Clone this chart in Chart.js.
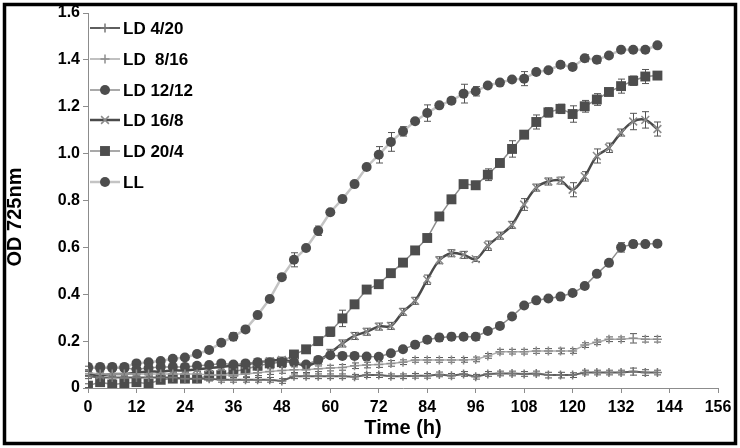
<!DOCTYPE html>
<html>
<head>
<meta charset="utf-8">
<script src="https://cdn.jsdelivr.net/npm/chart.js@4.4.1/dist/chart.umd.min.js"></script>
<style>
  html, body { margin: 0; padding: 0; background: #fff; }
  #wrap { position: relative; width: 740px; height: 448px; }
</style>
</head>
<body>
<div id="wrap"><canvas id="chart" width="740" height="448"></canvas></div>
<script>
// sampling times (h)
const hours = [0, 3, 6, 9, 12, 15, 18, 21, 24, 27, 30, 33, 36, 39, 42, 45,
  48, 51, 54, 57, 60, 63, 66, 69, 72, 75, 78, 81, 84, 87, 90, 93,
  96, 99, 102, 105, 108, 111, 114, 117, 120, 123, 126, 129, 132, 135, 138, 141]

const xTicks = [0, 12, 24, 36, 48, 60, 72, 84, 96, 108, 120, 132, 144, 156]

// OD 725nm per light regime
const ld4_20 = [0.05, 0.045, 0.045, 0.045, 0.045, 0.045, 0.045, 0.045, 0.04, 0.04, 0.04, 0.035, 0.035, 0.035, 0.035, 0.035,
  0.03, 0.05, 0.05, 0.05, 0.05, 0.05, 0.048, 0.055, 0.055, 0.05, 0.05, 0.052, 0.052, 0.058, 0.052, 0.06,
  0.048, 0.06, 0.062, 0.062, 0.06, 0.062, 0.055, 0.055, 0.055, 0.066, 0.066, 0.066, 0.066, 0.07, 0.066, 0.066]
const ld8_16 = [0.065, 0.06, 0.06, 0.06, 0.06, 0.06, 0.06, 0.06, 0.06, 0.06, 0.055, 0.055, 0.055, 0.06, 0.065, 0.07,
  0.075, 0.078, 0.078, 0.082, 0.085, 0.088, 0.095, 0.098, 0.1, 0.105, 0.11, 0.12, 0.12, 0.12, 0.12, 0.12,
  0.122, 0.137, 0.155, 0.155, 0.155, 0.158, 0.158, 0.158, 0.158, 0.183, 0.195, 0.208, 0.208, 0.212, 0.208, 0.208]
const ld12_12 = [0.085, 0.085, 0.085, 0.085, 0.08, 0.085, 0.09, 0.09, 0.09, 0.095, 0.098, 0.105, 0.1, 0.105, 0.11, 0.11,
  0.11, 0.11, 0.1, 0.12, 0.14, 0.137, 0.137, 0.134, 0.133, 0.148, 0.165, 0.185, 0.206, 0.215, 0.219, 0.219,
  0.219, 0.243, 0.265, 0.305, 0.352, 0.374, 0.382, 0.39, 0.405, 0.435, 0.487, 0.534, 0.6, 0.614, 0.614, 0.616]
const ld16_8 = [0.06, 0.055, 0.06, 0.06, 0.065, 0.07, 0.07, 0.075, 0.075, 0.08, 0.085, 0.09, 0.095, 0.1, 0.11, 0.115,
  0.12, 0.11, 0.095, 0.115, 0.15, 0.19, 0.222, 0.24, 0.262, 0.265, 0.325, 0.372, 0.462, 0.545, 0.575, 0.568,
  0.55, 0.607, 0.65, 0.696, 0.783, 0.855, 0.881, 0.885, 0.846, 0.903, 0.99, 1.025, 1.09, 1.137, 1.144, 1.105]
const ld20_4 = [0.01, 0.025, 0.015, 0.02, 0.025, 0.018, 0.035, 0.04, 0.04, 0.04, 0.053, 0.055, 0.07, 0.08, 0.095, 0.105,
  0.11, 0.143, 0.165, 0.2, 0.24, 0.297, 0.357, 0.42, 0.443, 0.49, 0.535, 0.587, 0.64, 0.732, 0.805, 0.87,
  0.865, 0.91, 0.96, 1.02, 1.081, 1.135, 1.176, 1.191, 1.169, 1.202, 1.231, 1.263, 1.288, 1.311, 1.329, 1.333]
const ll = [0.09, 0.09, 0.09, 0.09, 0.105, 0.11, 0.115, 0.125, 0.13, 0.145, 0.162, 0.193, 0.219, 0.25, 0.311, 0.38,
  0.473, 0.547, 0.597, 0.671, 0.75, 0.806, 0.87, 0.943, 0.995, 1.05, 1.095, 1.138, 1.173, 1.206, 1.226, 1.256,
  1.266, 1.291, 1.303, 1.316, 1.32, 1.348, 1.356, 1.379, 1.37, 1.407, 1.401, 1.419, 1.443, 1.443, 1.443, 1.462]

// error bars (+/-)
const errLd4_20 = [0.01, 0.01, 0.01, 0.01, 0.01, 0.01, 0.01, 0.01, 0.01, 0.01, 0.01, 0.01, 0.01, 0.01, 0.01, 0.01,
  0.01, 0.01, 0.01, 0.01, 0.01, 0.01, 0.01, 0.01, 0.01, 0.01, 0.01, 0.01, 0.01, 0.01, 0.01, 0.01,
  0.01, 0.01, 0.01, 0.01, 0.01, 0.01, 0.012, 0.012, 0.01, 0.01, 0.01, 0.01, 0.01, 0.015, 0.012, 0.01]
const errLd8_16 = [0.012, 0.012, 0.012, 0.012, 0.012, 0.012, 0.012, 0.012, 0.012, 0.012, 0.012, 0.012, 0.012, 0.012, 0.012, 0.012,
  0.012, 0.012, 0.012, 0.012, 0.012, 0.012, 0.012, 0.012, 0.012, 0.012, 0.01, 0.01, 0.01, 0.01, 0.01, 0.01,
  0.01, 0.01, 0.01, 0.01, 0.01, 0.01, 0.01, 0.012, 0.01, 0.01, 0.01, 0.01, 0.01, 0.02, 0.012, 0.012]
const errLd12_12 = [0.008, 0.008, 0.008, 0.008, 0.008, 0.008, 0.008, 0.008, 0.008, 0.008, 0.008, 0.008, 0.008, 0.008, 0.008, 0.008,
  0.008, 0.008, 0.008, 0.008, 0.008, 0.008, 0.008, 0.008, 0.008, 0.008, 0.008, 0.008, 0.01, 0.015, 0.015, 0.01,
  0.015, 0.01, 0.008, 0.008, 0.008, 0.008, 0.008, 0.01, 0.01, 0.008, 0.008, 0.008, 0.02, 0.015, 0.008, 0.008]
const errLd16_8 = [0.01, 0.01, 0.01, 0.01, 0.01, 0.01, 0.01, 0.01, 0.01, 0.01, 0.01, 0.01, 0.012, 0.012, 0.012, 0.012,
  0.012, 0.012, 0.012, 0.012, 0.015, 0.015, 0.015, 0.015, 0.015, 0.015, 0.015, 0.015, 0.02, 0.015, 0.015, 0.015,
  0.01, 0.02, 0.015, 0.015, 0.025, 0.015, 0.015, 0.015, 0.03, 0.02, 0.03, 0.02, 0.015, 0.035, 0.035, 0.03]
const errLd20_4 = [0.008, 0.008, 0.008, 0.008, 0.008, 0.008, 0.008, 0.008, 0.008, 0.008, 0.008, 0.008, 0.01, 0.01, 0.01, 0.01,
  0.01, 0.01, 0.01, 0.01, 0.02, 0.035, 0.01, 0.01, 0.01, 0.01, 0.01, 0.01, 0.01, 0.01, 0.017, 0.015,
  0.017, 0.025, 0.01, 0.035, 0.017, 0.03, 0.02, 0.02, 0.035, 0.025, 0.025, 0.01, 0.03, 0.02, 0.03, 0.01]
const errLl = [0, 0, 0, 0, 0, 0, 0, 0, 0, 0, 0, 0, 0.017, 0.01, 0, 0,
  0, 0.03, 0, 0.02, 0, 0, 0, 0, 0.035, 0.04, 0.02, 0, 0.035, 0, 0.01, 0.04,
  0.02, 0, 0, 0, 0.03, 0, 0, 0.01, 0, 0.015, 0.015, 0, 0, 0, 0, 0]

const FONT = "'Liberation Sans', Arial, sans-serif"
const AXIS_GRAY = "#8c8c8c"
const MARK = "#4d4d4d"

function pts(values) {
  return hours.map((h, i) => ({ x: h, y: values[i] }))
}

const series = [
  { label: "LD 4/20", data: ld4_20, err: errLd4_20, line: "#5e5e5e", lw: 2, style: "cross", r: 4.5, pFill: "#777", pLine: "#777", tension: 0 },
  { label: "LD  8/16", data: ld8_16, err: errLd8_16, line: "#ababab", lw: 1.5, style: "cross", r: 4.5, pFill: "#8e8e8e", pLine: "#8e8e8e", tension: 0 },
  { label: "LD 12/12", data: ld12_12, err: errLd12_12, line: "#8c8c8c", lw: 1.5, style: "circle", r: 5, pFill: MARK, pLine: MARK, tension: 0 },
  { label: "LD 16/8", data: ld16_8, err: errLd16_8, line: "#4a4a4a", lw: 2.5, style: "crossRot", r: 5.5, pFill: "#8a8a8a", pLine: "#8a8a8a", tension: 0.35 },
  { label: "LD 20/4", data: ld20_4, err: errLd20_4, line: "#8c8c8c", lw: 1.5, style: "rect", r: 7, pFill: MARK, pLine: MARK, tension: 0 },
  { label: "LL", data: ll, err: errLl, line: "#c4c4c4", lw: 2.5, style: "circle", r: 5, pFill: MARK, pLine: MARK, tension: 0 }
]

// draws a marker the same way for the legend
function drawMarker(ctx, s, x, y) {
  ctx.save()
  ctx.fillStyle = s.pFill
  ctx.strokeStyle = s.pLine
  ctx.lineWidth = 1.5
  ctx.beginPath()
  if (s.style === "circle") {
    ctx.arc(x, y, s.r, 0, Math.PI * 2)
    ctx.fill()
  } else if (s.style === "rect") {
    const h = s.r * Math.SQRT1_2
    ctx.rect(x - h, y - h, 2 * h, 2 * h)
    ctx.fill()
  } else if (s.style === "cross") {
    ctx.moveTo(x - s.r, y); ctx.lineTo(x + s.r, y)
    ctx.moveTo(x, y - s.r); ctx.lineTo(x, y + s.r)
    ctx.stroke()
  } else {
    const d = s.r * Math.SQRT1_2
    ctx.moveTo(x - d, y - d); ctx.lineTo(x + d, y + d)
    ctx.moveTo(x - d, y + d); ctx.lineTo(x + d, y - d)
    ctx.stroke()
  }
  ctx.restore()
}

const errorBars = {
  id: "errorBars",
  beforeDatasetsDraw(chart) {
    const ctx = chart.ctx
    const xs = chart.scales.x
    const ys = chart.scales.y
    ctx.save()
    ctx.strokeStyle = "#555"
    ctx.lineWidth = 1
    series.forEach((s) => {
      for (let i = 0; i < hours.length; i++) {
        const e = s.err[i]
        if (!e) continue
        const px = Math.round(xs.getPixelForValue(hours[i])) + 0.5
        const top = ys.getPixelForValue(s.data[i] + e)
        const bot = ys.getPixelForValue(s.data[i] - e)
        ctx.beginPath()
        ctx.moveTo(px, top); ctx.lineTo(px, bot)
        ctx.moveTo(px - 3.5, top); ctx.lineTo(px + 3.5, top)
        ctx.moveTo(px - 3.5, bot); ctx.lineTo(px + 3.5, bot)
        ctx.stroke()
      }
    })
    ctx.restore()
  }
}

const decorations = {
  id: "decorations",
  afterDraw(chart) {
    const ctx = chart.ctx
    ctx.save()
    // outer frame
    ctx.strokeStyle = "#000"
    ctx.lineWidth = 3.5
    ctx.strokeRect(4.5, 4.5, 731, 439)

    // y title
    ctx.translate(15, 217)
    ctx.rotate(-Math.PI / 2)
    ctx.fillStyle = "#000"
    ctx.font = "bold 20px " + FONT
    ctx.textAlign = "center"
    ctx.textBaseline = "middle"
    ctx.fillText("OD 725nm", 0, 0)
    ctx.restore()

    // legend, top left inside the plot
    ctx.save()
    ctx.font = "bold 17px " + FONT
    ctx.textBaseline = "middle"
    ctx.fillStyle = "#000"
    const rowY = [28, 59, 90, 120, 151, 182]
    series.forEach((s, i) => {
      const y = rowY[i]
      ctx.strokeStyle = s.line
      ctx.lineWidth = s.lw
      ctx.beginPath()
      ctx.moveTo(90, y); ctx.lineTo(120, y)
      ctx.stroke()
      drawMarker(ctx, s, 105, y)
      ctx.fillText(s.label, 123, y + 1)
    })
    ctx.restore()
  }
}

const datasets = series.map((s) => ({
  label: s.label,
  data: pts(s.data),
  borderColor: s.line,
  borderWidth: s.lw,
  backgroundColor: s.pFill,
  pointStyle: s.style,
  pointRadius: s.r,
  pointBackgroundColor: s.pFill,
  pointBorderColor: s.pLine,
  pointBorderWidth: s.style === "cross" || s.style === "crossRot" ? 1.5 : 0,
  tension: s.tension,
  fill: false
}))

const ctx = document.getElementById("chart")

const chart = new Chart(ctx, {
  type: "line",
  data: { datasets: datasets },
  options: {
    responsive: false,
    animation: false,
    devicePixelRatio: 1,
    layout: { padding: { left: 0, right: 22, top: 13, bottom: 0 } },
    plugins: {
      legend: { display: false },
      tooltip: { enabled: false },
      title: { display: false }
    },
    scales: {
      x: {
        type: "linear",
        min: 0,
        max: 156,
        afterFit: (scale) => { scale.height = 60 },
        afterBuildTicks: (scale) => { scale.ticks = xTicks.map((v) => ({ value: v })) },
        border: { display: true, color: AXIS_GRAY, width: 1 },
        grid: { drawOnChartArea: false, drawTicks: true, tickLength: 5, color: AXIS_GRAY },
        ticks: { color: "#000", padding: 5, maxRotation: 0, font: { family: FONT, size: 16, weight: "bold" } },
        title: {
          display: true,
          text: "Time (h)",
          color: "#000",
          padding: { top: 0, bottom: 8 },
          font: { family: FONT, size: 20, weight: "bold" }
        }
      },
      y: {
        min: 0,
        max: 1.6,
        afterFit: (scale) => { scale.width = 88 },
        border: { display: true, color: AXIS_GRAY, width: 1 },
        grid: { drawOnChartArea: false, drawTicks: true, tickLength: 5, color: AXIS_GRAY },
        ticks: { stepSize: 0.2, color: "#000", padding: 3, font: { family: FONT, size: 16, weight: "bold" } }
      }
    }
  },
  plugins: [errorBars, decorations]
})
</script>
</body>
</html>
